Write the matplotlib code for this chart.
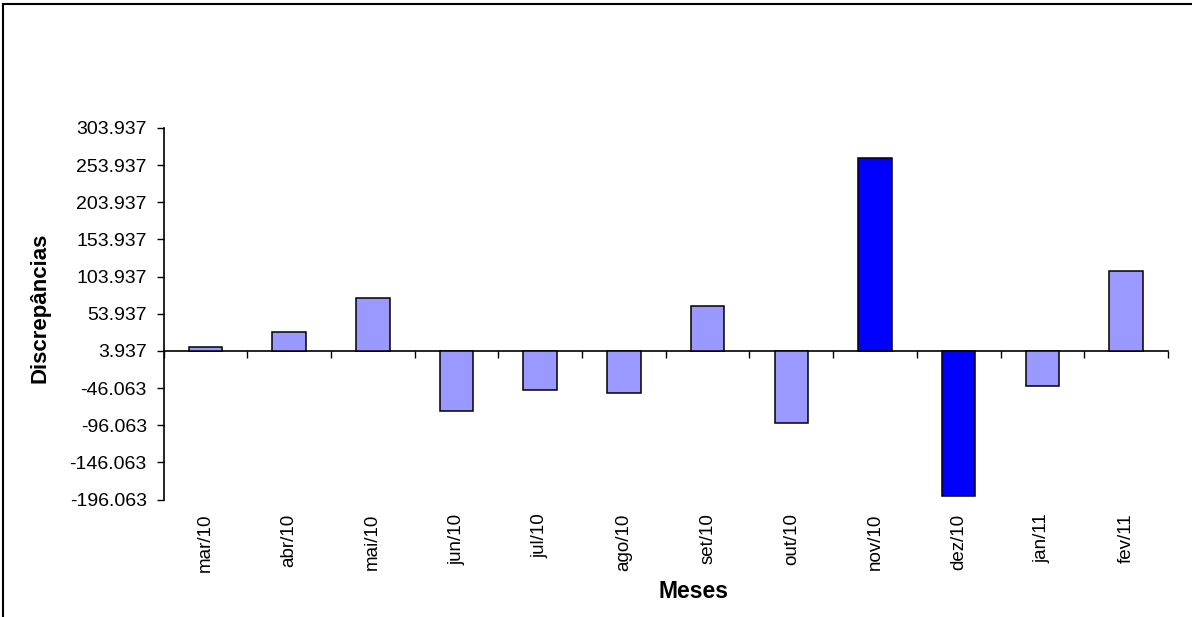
import matplotlib.pyplot as plt
from matplotlib.lines import Line2D
import numpy as np

plt.rcParams['font.family'] = ['Liberation Sans', 'DejaVu Sans']

meses = ['mar/10', 'abr/10', 'mai/10', 'jun/10', 'jul/10', 'ago/10',
         'set/10', 'out/10', 'nov/10', 'dez/10', 'jan/11', 'fev/11']
discrepancias = [9.3, 29.0, 75.0, -76.3, -49.0, -53.0,
                 63.7, -93.4, 263.0, -191.0, -43.5, 112.0]
destaque = [False, False, False, False, False, False,
            False, False, True, True, False, False]

base = 3.937
y_min = -196.063
y_max = 303.937
y_ticks = np.arange(y_min, y_max + 1, 50)

cor_normal = '#9999FF'
cor_destaque = '#0000FF'


def main():
    fig = plt.figure(figsize=(11.92, 6.17), dpi=100)
    ax = fig.add_axes([163.5 / 1192, 1 - 499.5 / 617, (1168 - 163.5) / 1192, (499.5 - 128) / 617])

    x = np.arange(len(meses))
    cores = [cor_destaque if d else cor_normal for d in destaque]
    alturas = [v - base for v in discrepancias]
    ax.bar(x, alturas, bottom=base, width=0.4, color=cores,
           edgecolor='black', linewidth=1.1, zorder=3)

    ax.set_xlim(-0.5, len(meses) - 0.5)
    ax.set_ylim(y_min, y_max)

    # eixo y
    ax.set_yticks(y_ticks)
    ax.set_yticklabels([f'{t:.3f}' for t in y_ticks])
    ax.tick_params(axis='y', direction='out', length=5, width=1, pad=7, labelsize=14)
    for s in ['top', 'right', 'bottom']:
        ax.spines[s].set_visible(False)
    ax.spines['left'].set_linewidth(1.2)

    # rótulos dos meses abaixo da área do gráfico
    ax.set_xticks(x)
    ax.set_xticklabels(meses, rotation=90, fontsize=13.5, va='top')
    ax.tick_params(axis='x', length=0, pad=10)

    # linha de base em 3.937 com marcas entre categorias
    frac = (base - y_min) / (y_max - y_min)
    sec = ax.secondary_xaxis(frac)
    sec.set_xticks(np.arange(-0.5, len(meses), 1.0))
    sec.set_xticklabels([])
    sec.tick_params(direction='out', length=5, width=1)
    sec.spines['bottom'].set_linewidth(1.2)

    fig.text(693 / 1192, 1 - 592 / 617, 'Meses', fontsize=16.5, fontweight='bold',
             ha='center', va='center')
    fig.text(40 / 1192, 1 - 308 / 617, 'Discrepâncias', fontsize=16, fontweight='bold',
             rotation=90, ha='center', va='center')

    # moldura externa (topo e esquerda)
    fig.add_artist(Line2D([3 / 1192, 1], [1 - 4 / 617, 1 - 4 / 617],
                          transform=fig.transFigure, color='black', lw=1.5))
    fig.add_artist(Line2D([3 / 1192, 3 / 1192], [0, 1 - 4 / 617],
                          transform=fig.transFigure, color='black', lw=1.5))

    fig.savefig('out.png', dpi=100)


if __name__ == '__main__':
    main()
